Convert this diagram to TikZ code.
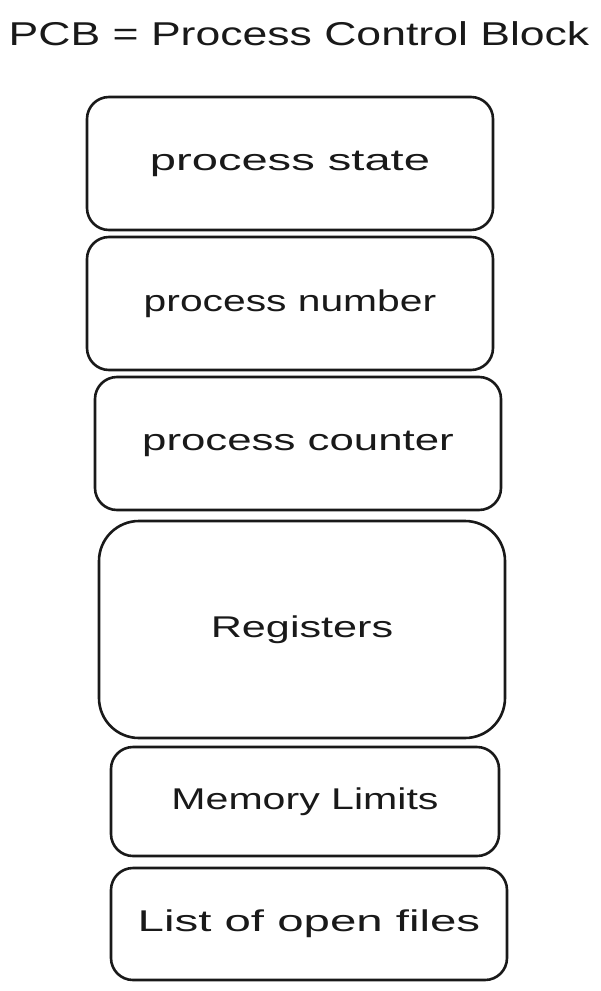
\documentclass[tikz,border=0pt]{standalone}
\usepackage{graphicx}
\usepackage{fontspec}
\setmainfont{Liberation Sans}
\newcommand{\wide}[2]{\raisebox{-3pt}{\scalebox{#1}[1]{#2}}}
\begin{document}
\begin{tikzpicture}[x=1pt,y=-1pt,
  pcbbox/.style={draw=black!90, line width=2.6pt, rounded corners=22pt, inner sep=0pt,
    font=\fontsize{30}{34}\selectfont, text=black!90},
  titletext/.style={font=\fontsize{33}{38}\selectfont, text=black!90, inner sep=0pt}]
\useasboundingbox (0,0) rectangle (601,991);
\node[titletext] (title) at (299,34) {\wide{1.35}{PCB = Process Control Block}};
\node[pcbbox, minimum width=406pt, minimum height=133pt] (state) at (290,163.5) {\wide{1.57}{process state}};
\node[pcbbox, minimum width=406pt, minimum height=133pt] (number) at (290,303.5) {\wide{1.36}{process number}};
\node[pcbbox, minimum width=406pt, minimum height=133pt] (counter) at (298,443.5) {\wide{1.46}{process counter}};
\node[pcbbox, minimum width=406pt, minimum height=217pt, rounded corners=40pt] (regs) at (302,629.5) {\wide{1.44}{Registers}};
\node[pcbbox, minimum width=388pt, minimum height=109pt] (mem) at (305,801.5) {\wide{1.37}{Memory Limits}};
\node[pcbbox, minimum width=396pt, minimum height=112pt] (files) at (309,924) {\wide{1.58}{List of open files}};
\end{tikzpicture}
\end{document}
